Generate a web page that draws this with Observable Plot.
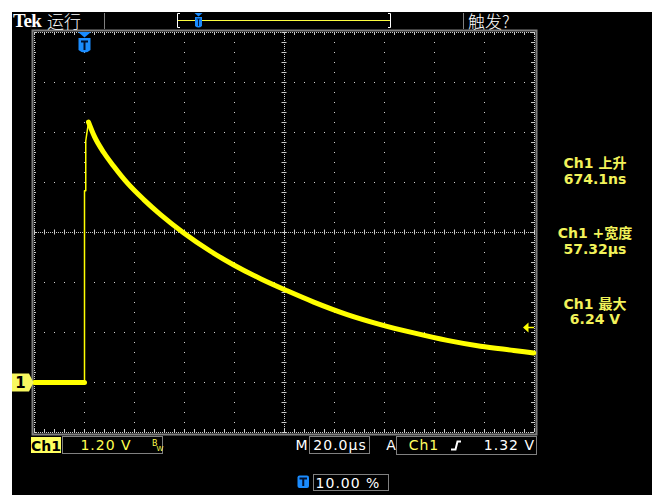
<!DOCTYPE html>
<html><head><meta charset="utf-8">
<script src="https://cdn.jsdelivr.net/npm/d3@7"></script>
<script src="https://cdn.jsdelivr.net/npm/@observablehq/plot@0.6"></script>
<style>html,body{margin:0;padding:0;background:#fff;} svg{display:block}</style>
</head><body><div id="chart"></div>
<script>
// ---- data (time in µs, voltage in V) ----
const baseTimes = [-20, -10, 0];
const baseVolts = [0, 0, 0];
const riseTimes = [0, 0, 0.5, 0.5, 1.6];
const riseVolts = [0, 4.6, 4.6, 5.8, 6.25];
const decayTimes = [1.6, 4.0, 7.7, 11.7, 17.1, 23.7, 30.4, 39.7, 50.4, 59.7, 70.4, 81.1, 91.7, 105.1, 118.4, 131.7, 145.1, 158.4, 171.7, 179.7];
const decayVolts = [6.25, 5.90, 5.52, 5.19, 4.79, 4.39, 4.03, 3.59, 3.15, 2.82, 2.49, 2.20, 1.93, 1.63, 1.39, 1.19, 1.01, 0.87, 0.77, 0.71];
const timeDivs = [-20, 0, 20, 40, 60, 80, 100, 120, 140, 160, 180];
const voltDivs = [-1.2, 0, 1.2, 2.4, 3.6, 4.8, 6.0, 7.2, 8.4];
const readoutLabels = ["Ch1 上升", "Ch1 +宽度", "Ch1 最大"];
const readoutValues = ["674.1ns", "57.32µs", "6.24 V"];
const chLabel = "Ch1", vScaleText = "1.20 V", tScaleText = "20.0µs";
const trigSource = "Ch1", trigLevelText = "1.32 V", trigPosText = "10.00 %";
const trigLevel = 1.32, trigTime = 0, groundLevel = 0;

const base = baseTimes.map((t, i) => ({t, v: baseVolts[i]}));
const rise = riseTimes.map((t, i) => ({t, v: riseVolts[i]}));
const decay = decayTimes.map((t, i) => ({t, v: decayVolts[i]}));

const gridC = "#cccccc";
const centerT = timeDivs[5], centerV = voltDivs[4];
const t0 = timeDivs[0], t1 = timeDivs[timeDivs.length - 1];
const v0 = voltDivs[0], v1 = voltDivs[voltDivs.length - 1];
const innerX = timeDivs.slice(1, -1).filter(t => t !== centerT);
const innerY = voltDivs.slice(1, -1).filter(v => v !== centerV);
const minorX = d3.range(0, 51).map(i => t0 + i * 4);
const minorY = d3.range(0, 41).map(i => v0 + i * 0.24);
const trace = "#ffff00";

const plot = Plot.plot({
  width: 658, height: 495,
  marginLeft: 34, marginRight: 124, marginTop: 32, marginBottom: 63,
  x: {domain: [t0, t1], axis: null},
  y: {domain: [v0, v1], axis: null},
  marks: [
    Plot.ruleX(innerX, {stroke: gridC, strokeDasharray: "1,9"}),
    Plot.ruleY(innerY, {stroke: gridC, strokeDasharray: "1,9"}),
    Plot.ruleX([t0, centerT, t1], {stroke: gridC, strokeDasharray: "1,1"}),
    Plot.ruleY([v0, centerV, v1], {stroke: gridC, strokeDasharray: "1,1"}),
    Plot.ruleY(minorY, {x1: centerT - 1, x2: centerT + 1, stroke: gridC}),
    Plot.ruleX(minorX, {y1: centerV - 0.06, y2: centerV + 0.06, stroke: gridC}),
    Plot.ruleY(minorY, {x1: t0, x2: t0 + 0.8, stroke: gridC}),
    Plot.ruleY(minorY, {x1: t1 - 1.2, x2: t1, stroke: gridC}),
    Plot.ruleX(minorX, {y1: v1, y2: v1 - 0.072, stroke: gridC}),
    Plot.ruleX(minorX, {y1: v0, y2: v0 + 0.072, stroke: gridC}),
    Plot.frame({stroke: "#808080", strokeWidth: 2, inset: -2}),
    Plot.line(base, {x: "t", y: "v", stroke: trace, strokeWidth: 5}),
    Plot.line(rise, {x: "t", y: "v", stroke: trace, strokeWidth: 1.5}),
    Plot.line(decay, {x: "t", y: "v", stroke: trace, strokeWidth: 5, curve: "monotone-x", strokeLinejoin: "round"})
  ]
});
document.getElementById("chart").appendChild(plot);

const svg = d3.select(plot);
const xs = plot.scale("x"), ys = plot.scale("y");
svg.insert("rect", ":first-child").attr("x", 12).attr("y", 12).attr("width", 640).attr("height", 483).attr("fill", "#000");

const sans = "'DejaVu Sans', 'Noto Sans CJK SC', sans-serif";
const cjk = "'Noto Sans CJK SC', sans-serif";
function txt(x, y, s, o = {}) {
  return svg.append("text").attr("x", x).attr("y", y).text(s)
    .attr("fill", o.fill || "#fff").attr("font-size", o.size || 14)
    .attr("font-family", o.family || sans).attr("font-weight", o.weight || "normal")
    .attr("text-anchor", o.anchor || "start").attr("letter-spacing", o.ls || 0);
}
const blue = "#1a8cff";

// ---- top status bar ----
txt(13, 27, "Tek", {size: 19, family: "'Liberation Serif', serif", weight: "bold", ls: -0.5});
txt(47, 27.5, "运行", {size: 17, family: cjk, weight: 300});
svg.append("line").attr("x1", 104.5).attr("x2", 104.5).attr("y1", 13).attr("y2", 29).attr("stroke", "#808080");
svg.append("line").attr("x1", 463.5).attr("x2", 463.5).attr("y1", 13).attr("y2", 29).attr("stroke", "#808080");
svg.append("path").attr("d", "M180,13.5 L177.5,13.5 L177.5,27.5 L180,27.5").attr("stroke", "#fff").attr("fill", "none");
svg.append("path").attr("d", "M388,13.5 L390.5,13.5 L390.5,27.5 L388,27.5").attr("stroke", "#fff").attr("fill", "none");
svg.append("line").attr("x1", 178).attr("x2", 390).attr("y1", 20.5).attr("y2", 20.5).attr("stroke", "#ffff40").attr("stroke-width", 1.2);
svg.append("path").attr("d", "M194.5,13 L202.5,13 L198.5,16.5 Z").attr("fill", blue);
svg.append("path").attr("d", "M195,17 L202,17 L202,26 Q198.5,29 195,26 Z").attr("fill", blue);
svg.append("path").attr("d", "M196.5,19 L200.5,19 M198.5,19 L198.5,26").attr("stroke", "#001840").attr("stroke-width", 1);
txt(468, 27.5, "触发?", {size: 17, family: cjk, weight: 300});

// ---- trigger position marker (T) ----
const tx = xs.apply(trigTime) + 0.5;
svg.append("path").attr("d", `M${tx - 6.5},32 L${tx + 6.5},32 L${tx},37.5 Z`).attr("fill", blue);
svg.append("path").attr("d", `M${tx - 6},38 L${tx + 6},38 L${tx + 6},50 Q${tx},55 ${tx - 6},50 Z`).attr("fill", blue);
svg.append("path").attr("d", `M${tx - 3.5},41.5 L${tx + 3.5},41.5 M${tx},41.5 L${tx},50`).attr("stroke", "#001030").attr("stroke-width", 2);

// ---- ground marker ----
const gy = ys.apply(groundLevel) + 0.5;
svg.append("path").attr("d", `M12,${gy - 9} L29,${gy - 9} L33.5,${gy} L29,${gy + 9} L12,${gy + 9} Z`).attr("fill", "#f8f860");
txt(20.5, gy + 5.5, "1", {fill: "#000", size: 15, weight: "bold", anchor: "middle"});

// ---- trigger level marker ----
const ty = ys.apply(trigLevel) + 0.5;
svg.append("path").attr("d", `M523,${ty} L528.5,${ty - 5} L528.5,${ty + 5} Z`).attr("fill", trace);
svg.append("line").attr("x1", 528).attr("x2", 534).attr("y1", ty).attr("y2", ty).attr("stroke", trace).attr("stroke-width", 1.5);

// ---- measurement readouts ----
const ro = "#f2f25a";
const roY = [[168, 183.5], [238, 254], [309, 324]];
readoutLabels.forEach((l, i) => {
  txt(595, roY[i][0], l, {fill: ro, size: 14, weight: "bold", anchor: "middle"});
  txt(595, roY[i][1], readoutValues[i], {fill: ro, size: 14, weight: "bold", anchor: "middle"});
});

// ---- bottom status bar ----
const boxC = "#808080";
function box(x, y, w, h) {
  svg.append("rect").attr("x", x + 0.5).attr("y", y + 0.5).attr("width", w).attr("height", h).attr("fill", "none").attr("stroke", boxC);
}
svg.append("rect").attr("x", 31).attr("y", 437).attr("width", 30).attr("height", 16).attr("fill", "#ffff60");
txt(46, 450.5, chLabel, {fill: "#000", size: 14, weight: "bold", anchor: "middle", ls: 0});
box(62, 436, 100, 17);
txt(106, 450, vScaleText, {fill: "#ffff50", size: 14, anchor: "middle", ls: 1});
txt(152, 446, "B", {fill: "#ffff50", size: 8});
txt(156.5, 451, "W", {fill: "#ffff50", size: 7});
txt(301.5, 450, "M", {size: 14, anchor: "middle"});
box(309, 436, 60, 17);
txt(340, 450, tScaleText, {size: 14, anchor: "middle", ls: 1});
txt(391, 450, "A", {size: 14, anchor: "middle"});
box(396, 436, 140, 18);
txt(424, 450, trigSource, {fill: "#ffff60", size: 14, anchor: "middle", ls: 1});
svg.append("path").attr("d", "M451,449.5 L455.5,449.5 L457.5,441.5 L461,441.5").attr("stroke", "#fff").attr("stroke-width", 2).attr("fill", "none");
txt(535, 450, trigLevelText, {size: 14, anchor: "end", ls: 1});
svg.append("rect").attr("x", 297.5).attr("y", 475.5).attr("width", 11.5).attr("height", 12.5).attr("rx", 2).attr("fill", blue);
svg.append("path").attr("d", "M299.5,478.5 L307,478.5 M303.25,478.5 L303.25,486").attr("stroke", "#001030").attr("stroke-width", 2);
box(313, 474, 75, 16);
txt(348, 488, trigPosText, {size: 14, anchor: "middle", ls: 1});
</script>
</body></html>
